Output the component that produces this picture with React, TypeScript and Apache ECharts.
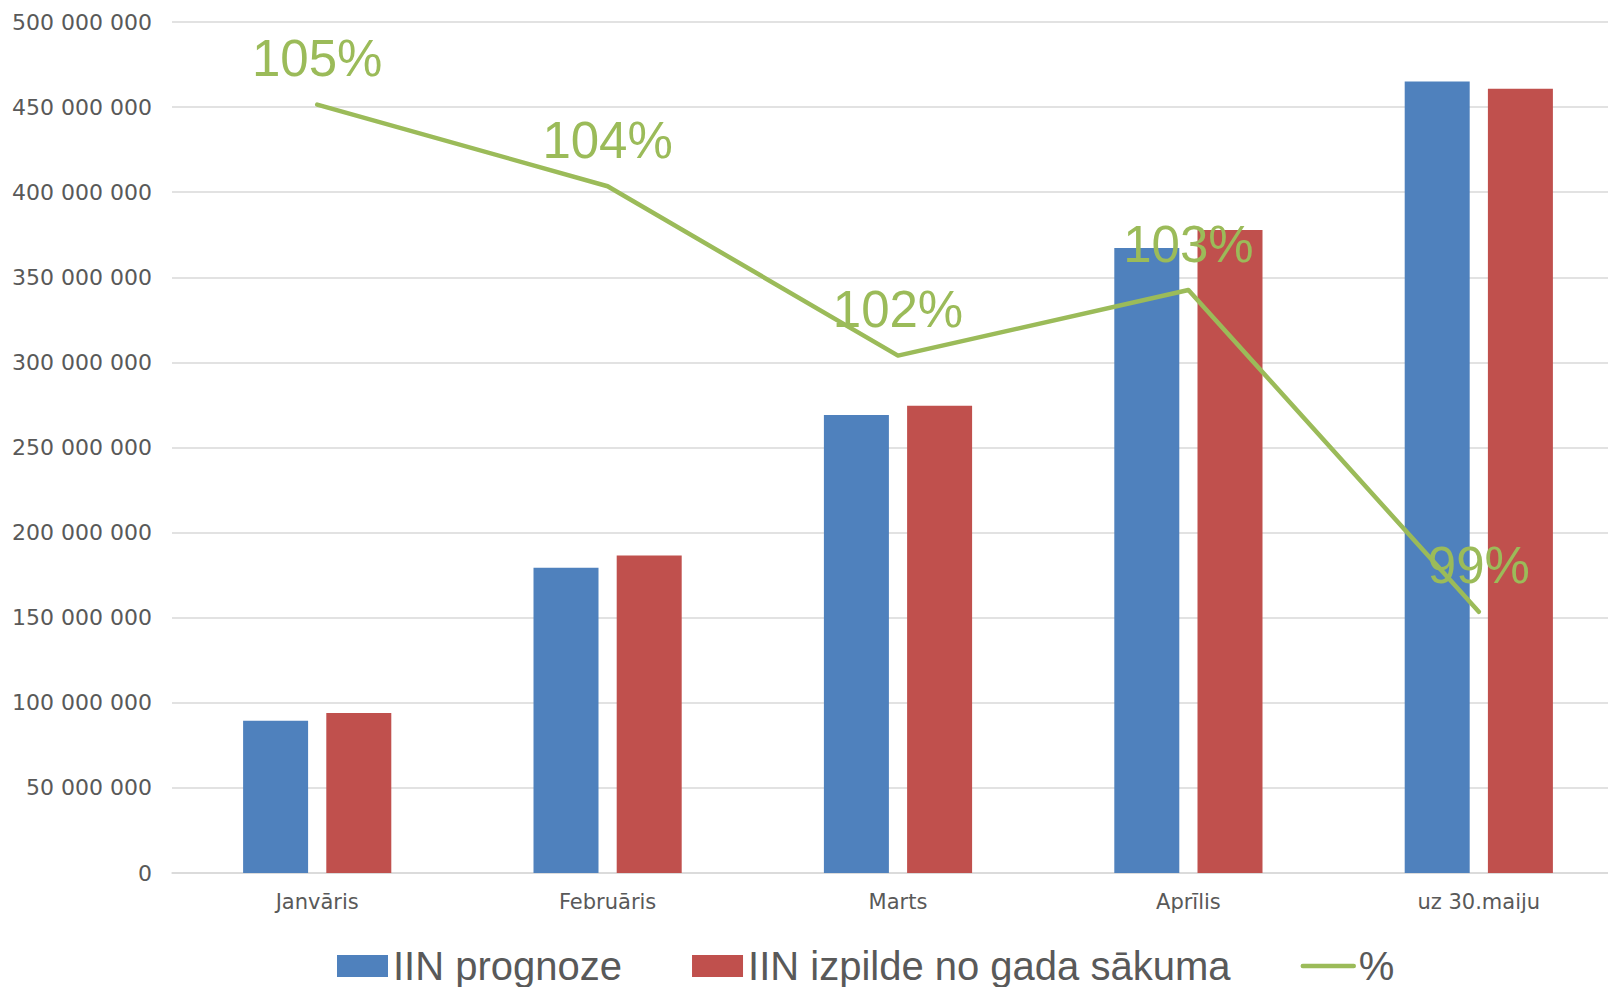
import React, { useEffect, useRef } from "react";
import * as echarts from "echarts";

const categories = ["Janvāris", "Februāris", "Marts", "Aprīlis", "uz 30.maiju"];
const forecast = [89500000, 179300000, 269100000, 367200000, 465100000];
const actual = [94000000, 186500000, 274500000, 377800000, 460800000];
const percent = [1.0503, 1.0407, 1.0208, 1.0285, 0.9907];
const seriesNames = ["IIN prognoze", "IIN izpilde no gada sākuma", "%"];

const fmtNum = (v: number) =>
  String(Math.round(v)).replace(/\B(?=(\d{3})+(?!\d))/g, " ");

export default function App() {
  const ref = useRef<HTMLDivElement>(null);
  useEffect(() => {
    if (!ref.current) return;
    const chart = echarts.init(ref.current, null, { renderer: "svg" });
    chart.setOption({
      animation: false,
      backgroundColor: "#ffffff",
      grid: {
        left: 172,
        top: 22,
        bottom: 114,
        right: -16,
        containLabel: false,
        outerBoundsMode: "none",
      },
      legend: {
        left: 332,
        top: 941,
        itemWidth: 51,
        itemHeight: 22,
        itemGap: 70,
        data: [
          { name: seriesNames[0], icon: "rect" },
          { name: seriesNames[1], icon: "rect" },
          {
            name: seriesNames[2],
            itemStyle: { opacity: 0 },
            lineStyle: { width: 4.5, cap: "round", color: "#9BBB59" },
          },
        ],
        textStyle: {
          fontFamily: "Liberation Sans",
          fontSize: 40,
          color: "#595959",
        },
      },
      xAxis: {
        type: "category",
        data: categories,
        axisLine: { show: true, lineStyle: { color: "#D9D9D9", width: 1.5 } },
        axisTick: { show: false },
        axisLabel: {
          margin: 18,
          fontFamily: "DejaVu Sans",
          fontSize: 21,
          color: "#595959",
        },
      },
      yAxis: [
        {
          type: "value",
          min: 0,
          max: 500000000,
          interval: 50000000,
          axisLine: { show: false },
          axisTick: { show: false },
          splitLine: { lineStyle: { color: "#D9D9D9", width: 1.5 } },
          axisLabel: {
            margin: 20,
            fontFamily: "DejaVu Sans",
            fontSize: 22,
            color: "#595959",
            formatter: (v: number) => fmtNum(v),
          },
        },
        {
          type: "value",
          min: 0.96,
          max: 1.06,
          show: false,
          splitLine: { show: false },
        },
      ],
      series: [
        {
          name: seriesNames[0],
          type: "bar",
          data: forecast,
          barWidth: 65,
          barGap: "28%",
          itemStyle: { color: "#4F81BD" },
        },
        {
          name: seriesNames[1],
          type: "bar",
          data: actual,
          barWidth: 65,
          barGap: "28%",
          itemStyle: { color: "#C0504D" },
        },
        {
          name: seriesNames[2],
          type: "line",
          yAxisIndex: 1,
          data: percent,
          symbol: "circle",
          symbolSize: 1,
          itemStyle: { color: "#9BBB59" },
          lineStyle: { color: "#9BBB59", width: 4.5, cap: "round", join: "round" },
          label: {
            show: true,
            position: "top",
            distance: 20,
            fontFamily: "Liberation Sans",
            fontSize: 51,
            color: "#9BBB59",
            formatter: (p: any) => Math.round(p.value * 100) + "%",
          },
          z: 5,
        },
      ],
    });
    return () => chart.dispose();
  }, []);
  return (
    <div
      ref={ref}
      style={{ position: "fixed", left: 0, top: 0, width: 1608, height: 987 }}
    />
  );
}
